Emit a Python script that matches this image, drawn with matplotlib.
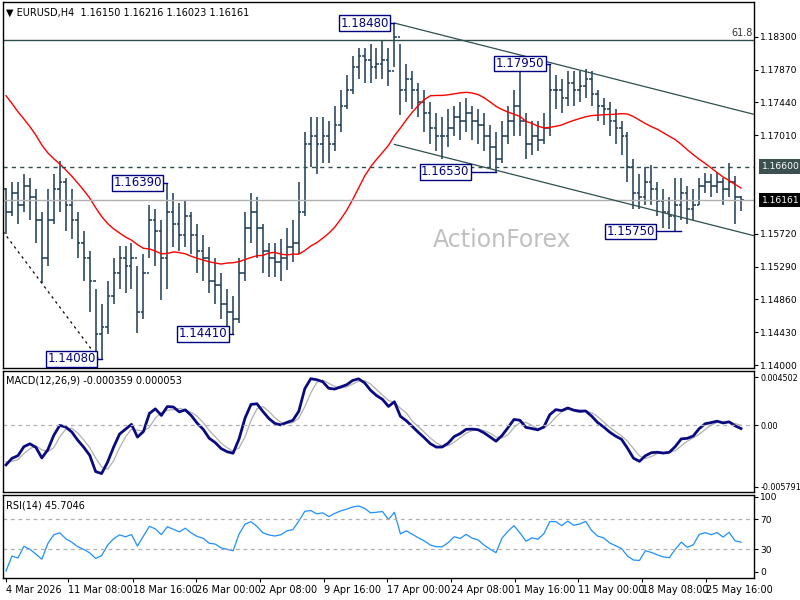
import numpy as np
import matplotlib
matplotlib.use("Agg")
import matplotlib.pyplot as plt

# prices in pips above 1.1000 (12h bars)
prior_close = [845,850,852,850,848,845,840,835,825,815,800,790,780,770,760,745,735,720,705,690,675,660,645,630]
close = [600,625,610,635,620,590,540,590,630,640,610,590,560,540,510,440,450,490,520,540,
         530,540,470,520,590,575,540,600,585,570,595,570,550,540,510,505,480,470,460,520,
         580,600,580,550,540,535,540,555,560,600,690,700,690,700,690,715,740,760,790,805,
         800,790,795,800,785,830,760,775,760,745,730,710,700,700,710,725,720,730,720,715,
         700,685,670,700,720,740,720,690,700,695,710,760,760,750,770,760,765,775,755,740,
         735,720,710,700,660,625,620,640,630,615,600,595,610,625,605,610,635,640,635,640,
         630,640,620,616]
high = [632,640,640,650,645,630,600,630,650,667,645,630,600,575,550,500,480,510,540,556,
        556,560,530,545,610,605,590,639,625,612,615,600,585,570,555,540,520,500,490,540,
        600,626,620,585,560,560,565,580,590,640,705,725,725,725,720,740,760,780,805,815,
        815,820,815,825,815,848,820,795,785,770,760,745,730,725,735,740,745,750,740,735,
        730,715,705,720,740,760,784,730,720,720,730,795,780,775,785,785,785,788,785,760,
        750,745,735,720,705,670,650,660,662,640,630,620,645,645,635,630,645,652,650,652,
        645,665,648,622]
low = [572,595,585,600,590,560,507,530,585,600,575,565,540,510,470,415,408,440,480,500,
       494,500,442,460,540,530,485,500,555,550,555,545,520,510,495,480,460,445,441,455,
       510,560,540,520,515,515,510,525,535,545,595,660,650,665,665,680,705,735,755,775,
       770,770,775,775,765,790,728,745,735,725,705,690,680,670,685,700,695,705,695,690,
       680,660,653,665,690,700,700,670,675,680,690,700,735,730,740,740,745,750,740,720,
       715,700,690,675,640,605,605,610,610,595,580,578,575,590,585,590,610,625,620,625,
       610,620,585,602]
xlabels = ["4 Mar 2026","11 Mar 08:00","18 Mar 16:00","26 Mar 00:00","2 Apr 08:00",
           "9 Apr 16:00","17 Apr 00:00","24 Apr 08:00","1 May 16:00","11 May 00:00",
           "18 May 08:00","25 May 16:00"]
xlabel_pos = [0, 10.33, 21.2, 31.8, 42.5, 53.2, 63.8, 74.5, 85.2, 95.8, 106.5, 117.2]
price_ticks = [1.18300,1.17870,1.17440,1.17010,1.15720,1.15290,1.14860,1.14430,1.14000]
swing_labels = [("1.18480",65,1.1848,-5.0),("1.16390",27,1.1639,-5.0),("1.14410",38,1.1441,-5.0),
                ("1.14080",16,1.1408,-5.0),("1.17950",91,1.1795,-5.0),("1.16530",82,1.1653,-8.5),
                ("1.15750",113,1.1575,-8.5)]

P = lambda a: 1.1 + np.asarray(a, float) / 10000
allc = np.concatenate([P(prior_close), P(close)])
n = len(close)
x = np.arange(n)
c = P(close); h = P(high); l = P(low)
o = np.concatenate([[P(prior_close[-1:])[0]], c[:-1]])

def sma(a, k):
    return np.convolve(a, np.ones(k) / k, mode="valid")
def ema(a, k):
    al = 2 / (k + 1); out = np.empty_like(a); out[0] = a[0]
    for i in range(1, len(a)):
        out[i] = al * a[i] + (1 - al) * out[i - 1]
    return out
ma = sma(allc, 22)[-n:]
macd = (ema(allc, 4) - ema(allc, 9))
sig = sma(macd, 3)
macd = macd[-n:]; sig = sig[-n:]
d = np.diff(allc); up = np.clip(d, 0, None); dn = np.clip(-d, 0, None)
up[0] = dn[0] = 0.0005
ag = ema(up, 14); ad = ema(dn, 14)
rsi = (100 - 100 / (1 + ag / np.maximum(ad, 1e-9)))[-n:]

fig = plt.figure(figsize=(8, 6), dpi=100)
L, W = 3 / 800, 751 / 800
def fy(y): return 1 - y / 600
ax = fig.add_axes([L, fy(368), W, fy(2) - fy(368)])
am = fig.add_axes([L, fy(492), W, fy(371) - fy(492)])
ar = fig.add_axes([L, fy(578), W, fy(495) - fy(578)])
xl = (-0.5, 125.17)
bc = "#1c3a52"
for a in (ax, am, ar):
    a.set_xlim(*xl)
    a.yaxis.tick_right()
    a.tick_params(axis="y", labelsize=6.6, length=3, pad=1.5)
    a.set_xticks([])
    for s in a.spines.values():
        s.set_color("black"); s.set_linewidth(1)

# price
ax.vlines(x, l, h, color=bc, lw=1.1)
ax.hlines(o, x - 0.45, x, color=bc, lw=1.1)
ax.hlines(c, x, x + 0.45, color=bc, lw=1.1)
ax.plot(x, ma, color="red", lw=1)
ax.set_ylim(1.13961, 1.18756)
ax.set_yticks(price_ticks)
ax.set_yticklabels([f"{t:.5f}" for t in price_ticks])
ax.axhline(1.1826, color="#2f4f4f", lw=1)
ax.axhline(1.1660, color="#2f4f4f", lw=1, ls=(0, (3, 3)))
ax.axhline(1.16161, color="#b0b0b0", lw=1)
ax.text(124.9, 1.1829, "61.8", fontsize=7, ha="right", va="bottom", color="#333")
ax.plot([65, 125.17], [1.1848, 1.17284], color="#2f4f4f", lw=0.9)
ax.plot([65, 125.17], [1.1689, 1.15694], color="#2f4f4f", lw=0.9)
ax.plot([-0.5, 15.5], [1.1575, 1.1408], color="black", lw=0.9, ls=(0, (2, 3)))
for txt, i, p, dx in swing_labels:
    ax.plot([i, i + dx + 4.0], [p, p], color="navy", lw=1)
    ax.text(i + dx, p, txt, fontsize=8.5, color="navy", ha="center", va="center",
            bbox=dict(boxstyle="square,pad=0.12", fc="white", ec="navy", lw=1))
ax.text(1.01, 1.1660, "1.16600", transform=ax.get_yaxis_transform(), fontsize=6.6, color="white",
        va="center", ha="left", bbox=dict(boxstyle="square,pad=0.3", fc="#3c5050", ec="none"), clip_on=False)
ax.text(1.01, 1.16161, "1.16161", transform=ax.get_yaxis_transform(), fontsize=6.6, color="white",
        va="center", ha="left", bbox=dict(boxstyle="square,pad=0.3", fc="black", ec="none"), clip_on=False)
ax.text(0.572, 0.35, "ActionForex", transform=ax.transAxes, fontsize=17, color="#c0c0c0", ha="left", va="center")
ax.text(0.004, 0.985, "\u25bc EURUSD,H4  1.16150 1.16216 1.16023 1.16161", transform=ax.transAxes,
        fontsize=7, ha="left", va="top")

# MACD
am.plot(x, sig, color="#b0b0b0", lw=0.9)
am.plot(x, macd, color="#0a0a80", lw=2)
am.axhline(0, color="#b0b0b0", lw=0.9, ls=(0, (3, 3)))
am.set_ylim(-0.006263, 0.005069)
am.set_yticks([0.004502, 0.0, -0.005791])
am.set_yticklabels(["0.004502", "0.00", "-0.005791"])
am.tick_params(axis="y", labelsize=5.8)
am.text(0.004, 0.96, "MACD(12,26,9) -0.000359 0.000053", transform=am.transAxes, fontsize=7, va="top")

# RSI
ar.plot(x, rsi, color="#1e90ff", lw=0.9)
for lv in (70, 30):
    ar.axhline(lv, color="#b0b0b0", lw=0.9, ls=(0, (3, 3)))
ar.set_ylim(-8, 102)
ar.set_yticks([100, 70, 30, 0])
ar.text(0.004, 0.93, "RSI(14) 45.7046", transform=ar.transAxes, fontsize=7, va="top")
ar.set_xticks(xlabel_pos)
ar.set_xticklabels(xlabels, fontsize=7, ha="left")
ar.tick_params(axis="x", length=3, pad=2)

fig.savefig("out.png", dpi=100, facecolor="white")
